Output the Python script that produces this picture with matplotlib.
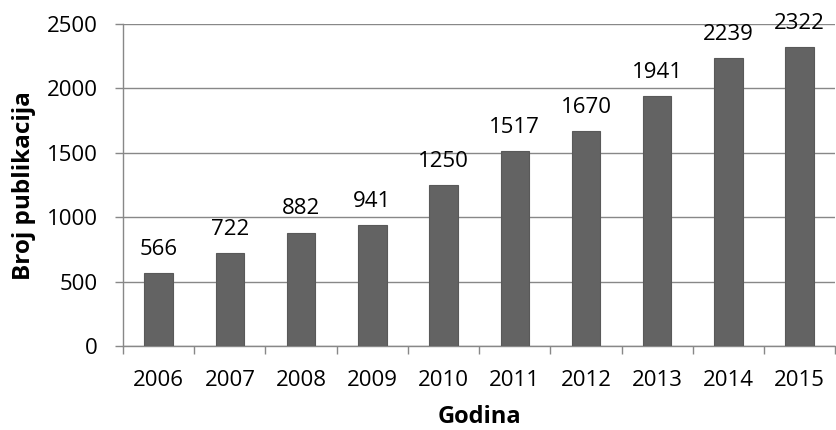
import matplotlib
matplotlib.use("Agg")
import matplotlib.pyplot as plt
import numpy as np

years = ["2006", "2007", "2008", "2009", "2010", "2011", "2012", "2013", "2014", "2015"]
counts = [566, 722, 882, 941, 1250, 1517, 1670, 1941, 2239, 2322]
yticks = [0, 500, 1000, 1500, 2000, 2500]

plt.rcParams['font.family'] = ['Open Sans', 'DejaVu Sans']

fig = plt.figure(figsize=(8.37, 4.30), dpi=100)
ax = fig.add_axes([0.147, 0.195, 0.851, 0.749])

x = np.arange(len(years))
ax.bar(x, counts, width=0.4, color='#636363', edgecolor='#595959', linewidth=0.8, zorder=3)

for xi, v in zip(x, counts):
    ax.annotate(str(v), (xi, v), xytext=(0, 13), textcoords='offset points',
                ha='center', va='baseline', fontsize=16, color='black')

ax.set_xlim(-0.5, len(years) - 0.5)
ax.set_ylim(0, 2500)
ax.set_yticks(yticks)
ax.set_yticklabels([str(t) for t in yticks], fontsize=16)
ax.set_xticks(x)
ax.set_xticklabels(years, fontsize=16)
ax.set_xticks(np.arange(-0.5, len(years), 1.0), minor=True)
ax.tick_params(axis='x', which='major', length=0, pad=17)
ax.tick_params(axis='x', which='minor', length=6, width=1, color='#888888', direction='out')
ax.tick_params(axis='y', length=6, width=1, color='#888888', direction='out', pad=12)

ax.grid(axis='y', color='#888888', linewidth=1, zorder=0)
for s in ['top', 'right']:
    ax.spines[s].set_visible(False)
for s in ['left', 'bottom']:
    ax.spines[s].set_color('#888888')
    ax.spines[s].set_linewidth(1)

ax.set_xlabel('Godina', fontsize=17, fontweight='bold', labelpad=10)
ax.set_ylabel('Broj publikacija', fontsize=17.5, fontweight='bold', labelpad=8)

fig.savefig('out.png', dpi=100)
